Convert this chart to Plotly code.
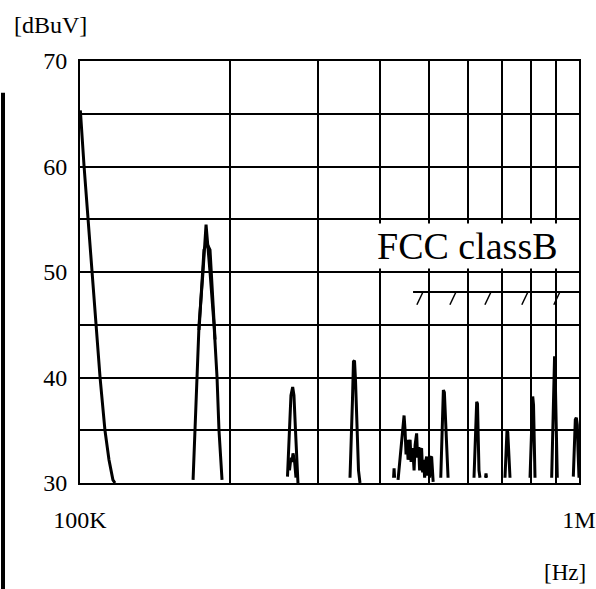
import plotly.graph_objects as go

# ---- data (frequency in kHz, level in dBuV) ----
peak1_f = [100.0, 100.2, 101.9, 103.8, 105.7, 107.7, 109.7, 112.2, 114.3, 116.4, 117.5]
peak1_db = [65.3, 65.2, 60.0, 54.9, 50.0, 45.0, 40.0, 35.0, 32.2, 30.3, 30.0]

peak2_f = [168.5, 170.0, 171.6, 173.2, 176.4, 178.9, 182.2, 185.6, 188.2, 189.9, 192.6]
peak2_db = [30.3, 35.0, 40.0, 45.0, 50.0, 54.5, 50.0, 45.0, 40.0, 35.0, 30.3]
peak2b_f = [173.2, 177.2, 179.7, 182.2, 186.5]
peak2b_db = [44.5, 52.1, 52.7, 52.1, 43.6]

peak3_f = [260.5, 262.3, 264.7, 266.8, 268.4, 270.3, 272.2, 273.4]
peak3_db = [30.6, 34.8, 38.3, 39.1, 38.3, 35.0, 31.2, 30.0]
peak3b_f = [262.9, 264.7, 266.0, 267.2, 269.0, 270.9]
peak3b_db = [31.2, 32.4, 32.0, 32.8, 32.2, 30.5]

peak4_f = [347.6, 350.0, 351.6, 353.2, 354.9, 356.5, 359.0, 361.5, 364.0]
peak4_db = [30.5, 34.1, 37.9, 41.5, 41.6, 39.8, 35.0, 31.2, 30.0]

spike_f = [425.0, 426.0, 427.0]
spike_db = [30.5, 31.4, 30.5]

cluster_f = [433.9, 439.9, 444.1, 446.1, 448.2, 450.2, 452.4, 454.4, 456.6, 458.7,
             460.8, 462.9, 465.1, 467.2, 469.4, 472.7, 474.9, 477.1, 479.3, 481.5,
             483.7, 486.0, 488.2, 490.5, 492.8, 495.1, 497.4, 499.6, 502.0, 504.3,
             506.6, 509.0, 510.2]
cluster_db = [30.3, 33.1, 35.5, 36.4, 35.0, 32.7, 34.1, 32.2, 33.6, 34.1,
              32.0, 33.3, 32.7, 31.2, 33.6, 34.7, 32.4, 33.4, 31.2, 33.1,
              33.3, 31.0, 32.2, 30.5, 32.0, 32.5, 30.7, 32.2, 30.5, 32.4,
              32.5, 31.2, 30.1]

peak5_f = [528.4, 530.4, 532.8, 534.8, 537.3, 540.3, 542.8, 546.5]
peak5_db = [30.5, 34.1, 37.9, 38.8, 38.6, 36.0, 33.1, 30.5]

peak6_f = [616.0, 618.9, 621.7, 623.7, 626.0, 628.3, 630.3, 633.2]
peak6_db = [30.5, 34.1, 37.4, 37.7, 37.5, 34.1, 31.2, 30.5]
bump6_f = [649.6, 651.1, 652.6]
bump6_db = [30.5, 30.9, 30.5]

peak7_f = [710.7, 714.0, 717.3, 719.9, 723.3, 727.3]
peak7_db = [30.5, 33.1, 35.0, 34.8, 32.7, 30.5]

peak8_f = [797.7, 801.4, 805.1, 807.7, 810.7, 813.7, 816.3]
peak8_db = [30.5, 34.1, 37.9, 38.2, 37.4, 33.6, 30.5]

peak9_f = [881.5, 884.8, 888.1, 891.0, 893.4, 897.2, 900.5, 904.7]
peak9_db = [30.5, 34.1, 37.9, 41.7, 42.0, 38.8, 34.1, 30.5]

peak10_f = [974.1, 978.6, 983.1, 987.7, 992.3, 995.5, 1000.0]
peak10_db = [30.6, 34.1, 36.0, 36.2, 35.5, 33.1, 30.5]

# FCC class B limit
limit_f = [465.0, 1000.0]
limit_db = [48.1, 48.1]
hatch_f = [480.0, 559.0, 657.0, 779.0, 903.0]
hatch_low_db = 46.9

# axes ticks
x_tickvals = [100, 200, 300, 400, 500, 600, 700, 800, 900, 1000]
x_ticktext = ["100K", "", "", "", "", "", "", "", "", "1M"]
y_tickvals = [30, 35, 40, 45, 50, 55, 60, 65, 70]
y_ticktext = ["30", "", "40", "", "50", "", "60", "", "70"]

segments = [
    (peak1_f, peak1_db), (peak2_f, peak2_db), (peak2b_f, peak2b_db),
    (peak3_f, peak3_db), (peak3b_f, peak3b_db), (peak4_f, peak4_db),
    (spike_f, spike_db), (cluster_f, cluster_db), (peak5_f, peak5_db),
    (peak6_f, peak6_db), (bump6_f, bump6_db), (peak7_f, peak7_db),
    (peak8_f, peak8_db), (peak9_f, peak9_db), (peak10_f, peak10_db),
]

xs, ys = [], []
for f, d in segments:
    xs += f + [None]
    ys += d + [None]

fig = go.Figure()
fig.add_trace(go.Scatter(x=xs, y=ys, mode="lines", connectgaps=False,
                         line=dict(color="black", width=3), showlegend=False,
                         hoverinfo="skip"))
fig.add_trace(go.Scatter(x=limit_f, y=limit_db, mode="lines",
                         line=dict(color="black", width=2), showlegend=False))
hx, hy = [], []
for f in hatch_f:
    hx += [f * 0.986, f * 1.014, None]
    hy += [hatch_low_db, limit_db[0], None]
fig.add_trace(go.Scatter(x=hx, y=hy, mode="lines", connectgaps=False,
                         line=dict(color="black", width=1.5), showlegend=False))

font_serif = "Liberation Serif"

fig.update_xaxes(type="log", range=[2, 3], tickvals=x_tickvals, ticktext=x_ticktext,
                 showgrid=True, gridcolor="black", gridwidth=2,
                 showline=True, linecolor="black", linewidth=2, mirror=True,
                 ticks="", ticklabelstandoff=14, zeroline=False, automargin=False,
                 tickfont=dict(family=font_serif, size=24, color="black"))
fig.update_yaxes(range=[30, 70], tickvals=y_tickvals, ticktext=y_ticktext,
                 showgrid=True, gridcolor="black", gridwidth=2,
                 showline=True, linecolor="black", linewidth=2, mirror=True,
                 ticks="", ticklabelstandoff=6, zeroline=False, automargin=False,
                 tickfont=dict(family=font_serif, size=24, color="black"))

fig.add_annotation(text="[dBuV]", xref="paper", yref="paper", x=-0.137, y=1.085,
                   xanchor="left", yanchor="middle", showarrow=False,
                   font=dict(family=font_serif, size=24, color="black"))
fig.add_annotation(text="[Hz]", xref="paper", yref="paper", x=1.018, y=-0.213,
                   xanchor="right", yanchor="middle", showarrow=False,
                   font=dict(family=font_serif, size=23, color="black"))
fig.add_annotation(text="FCC classB", xref="paper", yref="paper", x=0.7756, y=0.5616,
                   xanchor="center", yanchor="middle", showarrow=False,
                   bgcolor="white", borderpad=1,
                   font=dict(family=font_serif, size=38, color="black"))

# scan artifact: vertical bar at the left edge
fig.add_shape(type="line", xref="paper", yref="paper", x0=-0.1543, x1=-0.1543,
              y0=0.925, y1=-0.26, line=dict(color="black", width=4))

fig.update_layout(width=596, height=589, plot_bgcolor="white", paper_bgcolor="white",
                  margin=dict(l=80, r=17, t=61, b=106), showlegend=False)

fig.write_html("out.html")
